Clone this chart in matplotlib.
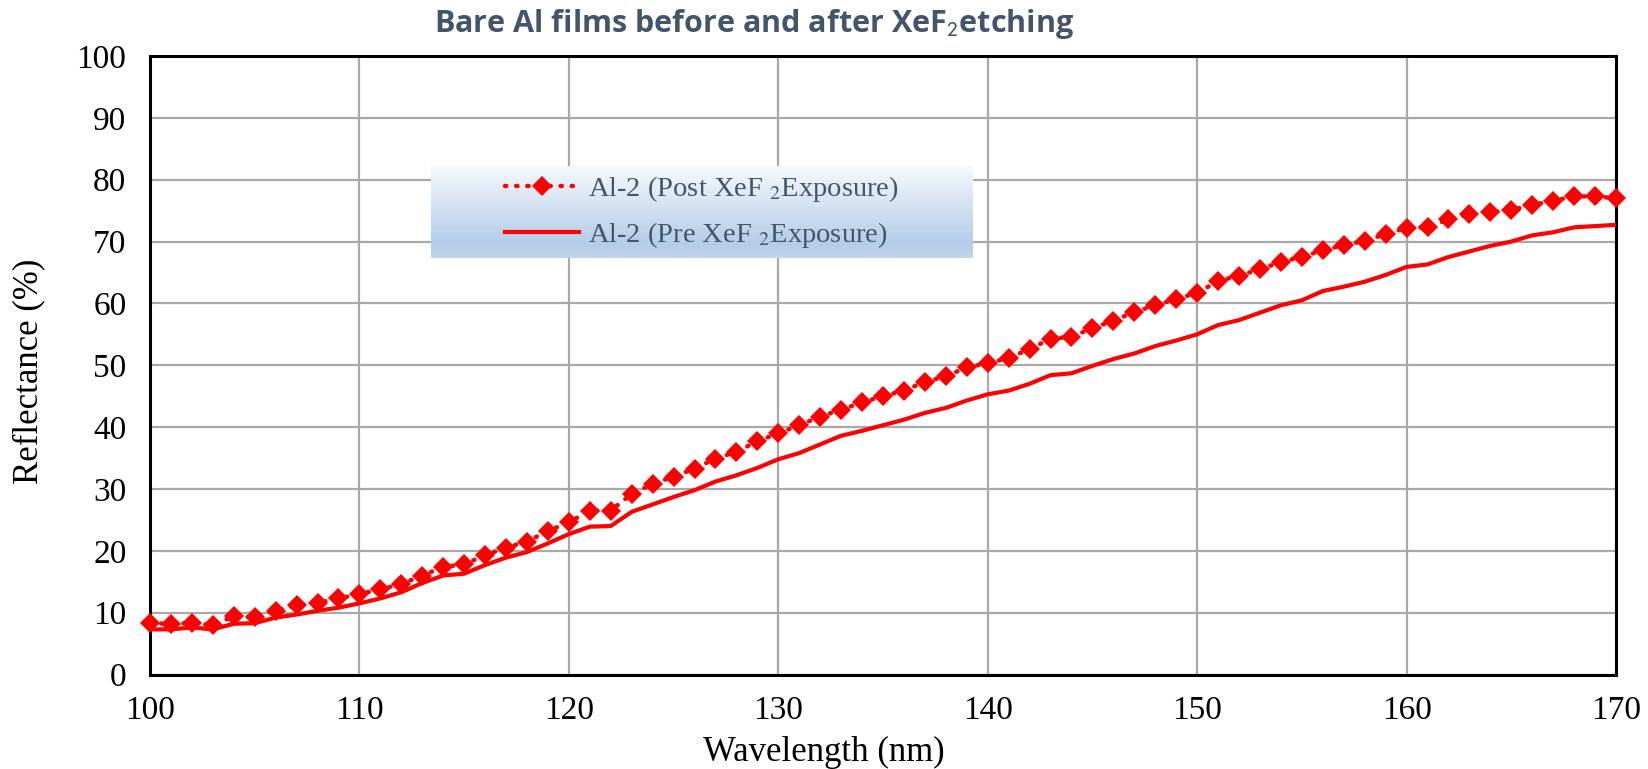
import numpy as np
import matplotlib
matplotlib.use("Agg")
import matplotlib.pyplot as plt

wavelength = list(range(100, 171))
post_xef2 = [8.3, 8.2, 8.3, 8.0, 9.4, 9.3, 10.3, 11.2, 11.6, 12.3,
             13.0, 13.8, 14.6, 16.0, 17.4, 17.8, 19.3, 20.5, 21.5, 23.2,
             24.6, 26.5, 26.5, 29.2, 30.8, 32.0, 33.3, 34.9, 36.0, 37.7,
             39.0, 40.3, 41.7, 42.8, 44.0, 45.0, 45.9, 47.3, 48.2, 49.7,
             50.3, 51.2, 52.6, 54.3, 54.6, 56.0, 57.2, 58.6, 59.7, 60.7,
             61.7, 63.6, 64.5, 65.5, 66.7, 67.5, 68.6, 69.4, 70.1, 71.2,
             72.2, 72.3, 73.6, 74.4, 74.7, 75.1, 75.9, 76.6, 77.3, 77.3,
             77.0]
pre_xef2 = [7.3, 7.3, 7.6, 7.3, 8.2, 8.3, 9.2, 9.7, 10.3, 10.8,
            11.5, 12.3, 13.3, 14.8, 16.0, 16.3, 17.7, 18.9, 19.8, 21.2,
            22.7, 23.9, 24.0, 26.3, 27.5, 28.7, 29.8, 31.2, 32.2, 33.4,
            34.8, 35.8, 37.2, 38.6, 39.4, 40.3, 41.2, 42.3, 43.1, 44.3,
            45.3, 45.9, 47.0, 48.4, 48.7, 49.9, 51.0, 51.9, 53.1, 54.0,
            55.0, 56.5, 57.3, 58.5, 59.7, 60.5, 62.0, 62.7, 63.5, 64.6,
            65.9, 66.3, 67.5, 68.4, 69.3, 70.0, 71.0, 71.5, 72.3, 72.5,
            72.7]
x_ticks = list(range(100, 171, 10))
y_ticks = list(range(0, 101, 10))

plt.rcParams['mathtext.fontset'] = 'stix'
serif = 'Liberation Serif'

fig = plt.figure(figsize=(16.49, 7.69), dpi=100)
ax = fig.add_axes([150/1649, 1-674.5/769, (1616-150)/1649, (674.5-56)/769])

l_post, = ax.plot(wavelength, post_xef2, color='#ff0000', linestyle=(0, (0.3, 2.2)),
                  linewidth=3.2, dash_capstyle='round', marker='D', markersize=10,
                  markeredgewidth=0, clip_on=False, zorder=4)
l_pre, = ax.plot(wavelength, pre_xef2, color='#ff0000', linewidth=3.0,
                 solid_joinstyle='round', zorder=3)

ax.set_xlim(100, 170)
ax.set_ylim(0, 100)
ax.set_xticks(x_ticks)
ax.set_yticks(y_ticks)
ax.grid(True, color='#a9a9a9', linewidth=1.6)
ax.set_axisbelow(True)
for s in ax.spines.values():
    s.set_color('black')
    s.set_linewidth(2.2)
ax.tick_params(length=0, labelsize=24)
ax.tick_params(axis='x', pad=15)
ax.tick_params(axis='y', pad=17)
for lab in ax.get_xticklabels() + ax.get_yticklabels():
    lab.set_fontfamily(serif)
ax.set_xlabel('Wavelength (nm)', fontsize=25, fontfamily=serif)
ax.set_ylabel('Reflectance (%)', fontsize=25, fontfamily=serif)
ax.xaxis.set_label_coords((824 - 150) / (1616 - 150), -(752 - 674.5) / (674.5 - 56),
                          transform=ax.transAxes)
ax.yaxis.set_label_coords(-(150 - 29) / (1616 - 150), 0.49, transform=ax.transAxes)
ax.xaxis.label.set_va('center')
ax.yaxis.label.set_va('center')

fig.text(754/1649, 1-24/769, 'Bare Al films before and after XeF$_\\mathsf{2}$etching',
         ha='center', va='center', fontsize=22, fontweight='bold',
         fontfamily='Open Sans', color='#44546a')

# legend box with gradient
lax = fig.add_axes([431/1649, 1-258/769, (973-431)/1649, (258-166)/769])
top = np.array([0.96, 0.975, 0.99])
mid = np.array([0.70, 0.80, 0.91])
bot = np.array([0.76, 0.84, 0.93])
n = 100
t = np.linspace(0, 1, n)
rows = []
for v in t:
    if v < 0.85:
        c = top + (mid - top) * (v / 0.85)
    else:
        c = mid + (bot - mid) * ((v - 0.85) / 0.15)
    rows.append(c)
grad = np.array(rows)[:, None, :]
lax.imshow(grad, aspect='auto', extent=[0, 1, 0, 1])
lax.set_axis_off()
leg = lax.legend([l_post, l_pre],
                 ['Al-2 (Post XeF $_2$Exposure)', 'Al-2 (Pre XeF $_2$Exposure)'],
                 loc='center', frameon=False, handlelength=2.6,
                 prop={'family': serif, 'size': 20.5}, labelspacing=0.55,
                 borderaxespad=0, handletextpad=0.3)
for txt in leg.get_texts():
    txt.set_color('#44546a')

fig.savefig('out.png', dpi=100)
